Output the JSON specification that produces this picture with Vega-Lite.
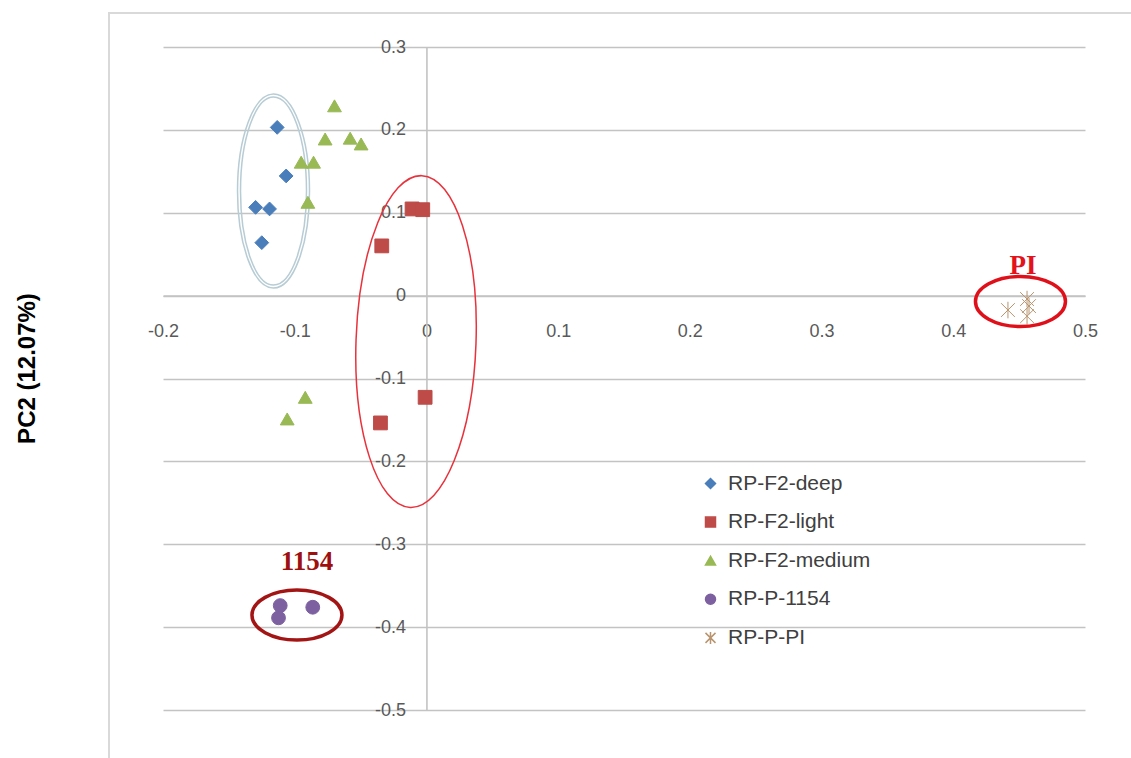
{
  "$schema": "https://vega.github.io/schema/vega-lite/v6.json",
  "width": 922,
  "height": 663,
  "autosize": {"type": "none"},
  "padding": {"left": 163, "top": 47, "right": 46, "bottom": 48},
  "background": "white",
  "config": {
    "view": {"stroke": null},
    "font": "Liberation Sans",
    "legend": {
      "orient": "none",
      "legendX": 537,
      "legendY": 426,
      "padding": 0,
      "labelFontSize": 21,
      "labelColor": "#404040",
      "labelFont": "Liberation Sans",
      "labelOffset": 7,
      "rowPadding": 16.6,
      "symbolSize": 100,
      "symbolStrokeWidth": 1.5
    }
  },
  "datasets": {
    "pts": [
      {"series": "RP-F2-deep", "pc1": -0.1133, "pc2": 0.203},
      {"series": "RP-F2-deep", "pc1": -0.1065, "pc2": 0.1444},
      {"series": "RP-F2-deep", "pc1": -0.1297, "pc2": 0.1065},
      {"series": "RP-F2-deep", "pc1": -0.1191, "pc2": 0.1046},
      {"series": "RP-F2-deep", "pc1": -0.125, "pc2": 0.0639},
      {"series": "RP-F2-light", "pc1": -0.0109, "pc2": 0.1046},
      {"series": "RP-F2-light", "pc1": -0.0028, "pc2": 0.1037},
      {"series": "RP-F2-light", "pc1": -0.0339, "pc2": 0.06},
      {"series": "RP-F2-light", "pc1": -0.001, "pc2": -0.1227},
      {"series": "RP-F2-light", "pc1": -0.0349, "pc2": -0.1536},
      {"series": "RP-F2-medium", "pc1": -0.0698, "pc2": 0.229},
      {"series": "RP-F2-medium", "pc1": -0.0769, "pc2": 0.189},
      {"series": "RP-F2-medium", "pc1": -0.0579, "pc2": 0.19},
      {"series": "RP-F2-medium", "pc1": -0.0496, "pc2": 0.183},
      {"series": "RP-F2-medium", "pc1": -0.0951, "pc2": 0.161},
      {"series": "RP-F2-medium", "pc1": -0.0857, "pc2": 0.161},
      {"series": "RP-F2-medium", "pc1": -0.09, "pc2": 0.1126},
      {"series": "RP-F2-medium", "pc1": -0.092, "pc2": -0.1227},
      {"series": "RP-F2-medium", "pc1": -0.1057, "pc2": -0.1488},
      {"series": "RP-P-1154", "pc1": -0.111, "pc2": -0.374},
      {"series": "RP-P-1154", "pc1": -0.1123, "pc2": -0.3888},
      {"series": "RP-P-1154", "pc1": -0.0863, "pc2": -0.376},
      {"series": "RP-P-PI", "pc1": 0.4415, "pc2": -0.0174},
      {"series": "RP-P-PI", "pc1": 0.456, "pc2": -0.0041},
      {"series": "RP-P-PI", "pc1": 0.4575, "pc2": -0.0126},
      {"series": "RP-P-PI", "pc1": 0.456, "pc2": -0.0248}
    ]
  },
  "resolve": {"axis": {"x": "independent", "y": "independent"}},
  "layer": [
    {
      "data": {"values": [{}]},
      "mark": {"type": "rect", "filled": false, "stroke": "#d9d9d9", "strokeWidth": 2, "clip": false},
      "encoding": {
        "x": {"datum": -0.241, "type": "quantitative", "axis": null},
        "x2": {"datum": 0.6},
        "y": {"datum": 0.341, "type": "quantitative", "axis": null},
        "y2": {"datum": -0.6}
      }
    },
    {
      "data": {"values": [{}]},
      "mark": {"type": "point", "shape": "M -36 0 A 36 97 0 1 0 36 0 A 36 97 0 1 0 -36 0 Z M -33 0 A 33 94 0 1 0 33 0 A 33 94 0 1 0 -33 0 Z", "size": 4, "filled": false, "stroke": "#b7ccd4", "strokeWidth": 1.5, "opacity": 1},
      "encoding": {
        "x": {"datum": -0.1161, "type": "quantitative", "axis": null},
        "y": {"datum": 0.1262, "type": "quantitative", "axis": null}
      }
    },
    {
      "data": {"values": [{}]},
      "mark": {"type": "point", "shape": "M -60 0 A 60 166 0 1 0 60 0 A 60 166 0 1 0 -60 0 Z", "size": 4, "filled": false, "stroke": "#e8323c", "strokeWidth": 1.5, "opacity": 1, "angle": 2},
      "encoding": {
        "x": {"datum": -0.0079, "type": "quantitative", "axis": null},
        "y": {"datum": -0.0554, "type": "quantitative", "axis": null}
      }
    },
    {
      "data": {"name": "pts"},
      "mark": {"type": "point", "filled": true, "size": 190, "strokeWidth": 1, "opacity": 1},
      "encoding": {
        "x": {
          "field": "pc1", "type": "quantitative",
          "scale": {"domain": [-0.2, 0.5], "nice": false, "zero": false},
          "axis": {
            "orient": "bottom", "offset": -414.4, "title": null,
            "values": [-0.2, -0.1, 0, 0.1, 0.2, 0.3, 0.4, 0.5],
            "labelExpr": "datum.value < 0 ? '-' + format(-datum.value, '.1f') : (datum.value == 0 ? '0' : format(datum.value, '.1f'))",
            "grid": false, "ticks": false, "tickSize": 0,
            "domainColor": "#c3c3c3", "domainWidth": 1.6,
            "labelPadding": 27, "labelFontSize": 18, "labelColor": "#595959",
            "labelFlush": false, "labelOverlap": false
          }
        },
        "y": {
          "field": "pc2", "type": "quantitative",
          "scale": {"domain": [-0.5, 0.3], "nice": false, "zero": false},
          "axis": {
            "orient": "left", "offset": -263.43,
            "title": "PC2 (12.07%)", "titleX": -399.4, "titleY": 321, "titleAngle": -90,
            "titleAlign": "center", "titleBaseline": "middle",
            "titleFontSize": 24, "titleFontWeight": "bold", "titleColor": "#000000", "titleFont": "Liberation Sans",
            "values": [-0.5, -0.4, -0.3, -0.2, -0.1, 0, 0.1, 0.2, 0.3],
            "labelExpr": "datum.value < 0 ? '-' + format(-datum.value, '.1f') : (datum.value == 0 ? '0' : format(datum.value, '.1f'))",
            "grid": true, "gridColor": "#c3c3c3", "gridWidth": 1.6,
            "ticks": false, "tickSize": 0,
            "domainColor": "#c3c3c3", "domainWidth": 1.6,
            "labelPadding": 21, "labelFontSize": 18, "labelColor": "#595959",
            "labelFlush": false, "labelOverlap": false
          }
        },
        "color": {
          "field": "series", "type": "nominal", "title": null,
          "scale": {"domain": ["RP-F2-deep", "RP-F2-light", "RP-F2-medium", "RP-P-1154", "RP-P-PI"],
                    "range": ["#4a7ebb", "#be4b48", "#98b954", "#7d60a0", "#b8956f"]}
        },
        "stroke": {
          "field": "series", "type": "nominal", "title": null,
          "scale": {"domain": ["RP-F2-deep", "RP-F2-light", "RP-F2-medium", "RP-P-1154", "RP-P-PI"],
                    "range": ["#4a7ebb", "#be4b48", "#98b954", "#7d60a0", "#b8956f"]}
        },
        "shape": {
          "field": "series", "type": "nominal", "title": null,
          "scale": {"domain": ["RP-F2-deep", "RP-F2-light", "RP-F2-medium", "RP-P-1154", "RP-P-PI"],
                    "range": ["diamond", "square", "triangle-up", "circle", "M -1 -1 L 1 1 M -1 1 L 1 -1 M 0 -1.2 L 0 1.2"]}
        }
      }
    },
    {
      "data": {"values": [{}]},
      "mark": {"type": "point", "shape": "M -45 0 A 45 25 0 1 0 45 0 A 45 25 0 1 0 -45 0 Z", "size": 4, "filled": false, "stroke": "#e0101a", "strokeWidth": 3.5, "opacity": 1},
      "encoding": {
        "x": {"datum": 0.451, "type": "quantitative", "axis": null},
        "y": {"datum": -0.0071, "type": "quantitative", "axis": null}
      }
    },
    {
      "data": {"values": [{}]},
      "mark": {"type": "point", "shape": "M -45 0 A 45 25 0 1 0 45 0 A 45 25 0 1 0 -45 0 Z", "size": 4, "filled": false, "stroke": "#a31515", "strokeWidth": 3.5, "opacity": 1},
      "encoding": {
        "x": {"datum": -0.0983, "type": "quantitative", "axis": null},
        "y": {"datum": -0.3854, "type": "quantitative", "axis": null}
      }
    },
    {
      "data": {"values": [{}]},
      "mark": {"type": "text", "text": "PI", "font": "Liberation Serif", "fontWeight": "bold", "fontSize": 27, "color": "#e3121b", "align": "center", "baseline": "middle"},
      "encoding": {
        "x": {"datum": 0.4529, "type": "quantitative", "axis": null},
        "y": {"datum": 0.0357, "type": "quantitative", "axis": null}
      }
    },
    {
      "data": {"values": [{}]},
      "mark": {"type": "text", "text": "1154", "font": "Liberation Serif", "fontWeight": "bold", "fontSize": 27, "color": "#9e1010", "align": "center", "baseline": "middle"},
      "encoding": {
        "x": {"datum": -0.0907, "type": "quantitative", "axis": null},
        "y": {"datum": -0.3215, "type": "quantitative", "axis": null}
      }
    }
  ]
}
